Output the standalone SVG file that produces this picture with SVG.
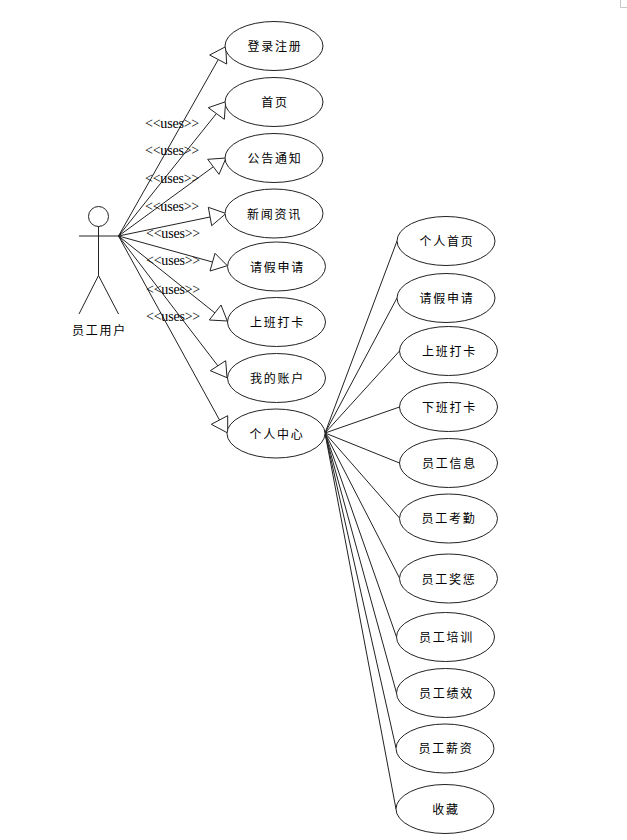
<svg xmlns="http://www.w3.org/2000/svg" width="627" height="840" viewBox="0 0 627 840">
<style>
.u{fill:#fff;stroke:#222;stroke-width:1}
.c line,.c polyline,.a line,.a circle{stroke:#222;stroke-width:1;fill:none}
.c polygon{fill:#fff;stroke:#222;stroke-width:1}
text{fill:#000;text-anchor:middle}
.t{font:12px "Noto Sans CJK SC","Liberation Sans",sans-serif;letter-spacing:1.8px}
.s{font:14px "Liberation Serif",serif;letter-spacing:-0.2px}
</style>
<rect width="627" height="840" fill="#fff"/>
<path d="M620.5 0V7.5H627" fill="none" stroke="#c8c8c8"/>
<g id="connectors" class="c">
<line x1="118.5" y1="236" x2="218" y2="60"/>
<line x1="118.5" y1="236" x2="216" y2="114"/>
<line x1="118.5" y1="236" x2="213" y2="167"/>
<line x1="118.5" y1="236" x2="210" y2="217"/>
<line x1="118.5" y1="236" x2="212.5" y2="262"/>
<line x1="118.5" y1="236" x2="215" y2="313"/>
<line x1="118.5" y1="236" x2="218" y2="366"/>
<line x1="118.5" y1="236" x2="219.5" y2="420"/>
<polygon points="225.7,46.7 209.7,55 226.7,64"/>
<polygon points="225.7,101.7 208.3,107.7 224.3,119.3"/>
<polygon points="226,158 207.7,159.3 219,174.3"/>
<polygon points="226,213.5 208.3,207.3 211.7,225.7"/>
<polygon points="227.3,265.7 215,253.3 210,271"/>
<polygon points="227.3,321 221,305 209.3,320"/>
<polygon points="227,377.7 225.7,360.7 210.3,370.7"/>
<polygon points="227.7,433 211.3,424.3 227.7,415.7"/>
<line x1="325" y1="433" x2="397" y2="241"/>
<line x1="325" y1="433" x2="397" y2="298"/>
<line x1="325" y1="433" x2="399.5" y2="351"/>
<line x1="325" y1="433" x2="399.5" y2="407"/>
<line x1="325" y1="433" x2="399.5" y2="463"/>
<line x1="325" y1="433" x2="399.5" y2="518"/>
<line x1="325" y1="433" x2="399.5" y2="578"/>
<line x1="325" y1="433" x2="396.5" y2="637"/>
<line x1="325" y1="433" x2="396.5" y2="693"/>
<line x1="325" y1="433" x2="396" y2="748"/>
<line x1="325" y1="433" x2="396" y2="809"/>
</g>
<g id="uses-labels" class="s">
<text x="172" y="128">&lt;&lt;uses&gt;&gt;</text>
<text x="172" y="155">&lt;&lt;uses&gt;&gt;</text>
<text x="172" y="183">&lt;&lt;uses&gt;&gt;</text>
<text x="172" y="211">&lt;&lt;uses&gt;&gt;</text>
<text x="173" y="238">&lt;&lt;uses&gt;&gt;</text>
<text x="173" y="265">&lt;&lt;uses&gt;&gt;</text>
<text x="173" y="294">&lt;&lt;uses&gt;&gt;</text>
<text x="173" y="321">&lt;&lt;uses&gt;&gt;</text>
</g>
<g id="actor" class="a">
<circle cx="98.5" cy="216.5" r="10"/>
<line x1="98.5" y1="226.5" x2="98.5" y2="275.5"/>
<line x1="79" y1="236" x2="118.5" y2="236"/>
<line x1="98.5" y1="275.5" x2="79" y2="314"/>
<line x1="98.5" y1="275.5" x2="118.5" y2="314"/>
<text class="t" x="99.5" y="335">员工用户</text>
</g>
<g id="n1"><ellipse class="u" cx="274" cy="46" rx="49" ry="24.5"/><text class="t" x="275" y="51">登录注册</text></g>
<g id="n2"><ellipse class="u" cx="274" cy="102" rx="49" ry="24.5"/><text class="t" x="275" y="107">首页</text></g>
<g id="n3"><ellipse class="u" cx="274" cy="158" rx="49" ry="24.5"/><text class="t" x="275" y="163">公告通知</text></g>
<g id="n4"><ellipse class="u" cx="274" cy="213.5" rx="49" ry="24.5"/><text class="t" x="274.5" y="218.5">新闻资讯</text></g>
<g id="n5"><ellipse class="u" cx="276.5" cy="266.5" rx="49" ry="24.5"/><text class="t" x="277.5" y="271.5">请假申请</text></g>
<g id="n6"><ellipse class="u" cx="276.5" cy="322" rx="49" ry="24.5"/><text class="t" x="277.5" y="327">上班打卡</text></g>
<g id="n7"><ellipse class="u" cx="276.5" cy="378" rx="49" ry="24.5"/><text class="t" x="277.5" y="383">我的账户</text></g>
<g id="n8"><ellipse class="u" cx="276" cy="433.5" rx="49" ry="24.5"/><text class="t" x="277" y="438.5">个人中心</text></g>
<g id="r1"><ellipse class="u" cx="446" cy="241" rx="49" ry="24.5"/><text class="t" x="447" y="246">个人首页</text></g>
<g id="r2"><ellipse class="u" cx="446" cy="298" rx="49" ry="24.5"/><text class="t" x="447" y="303">请假申请</text></g>
<g id="r3"><ellipse class="u" cx="448.5" cy="351" rx="49" ry="24.5"/><text class="t" x="449.5" y="356">上班打卡</text></g>
<g id="r4"><ellipse class="u" cx="448.5" cy="407" rx="49" ry="24.5"/><text class="t" x="449.5" y="412">下班打卡</text></g>
<g id="r5"><ellipse class="u" cx="448.5" cy="463" rx="49" ry="24.5"/><text class="t" x="449.5" y="468">员工信息</text></g>
<g id="r6"><ellipse class="u" cx="448.5" cy="518.5" rx="49" ry="24.5"/><text class="t" x="449" y="523">员工考勤</text></g>
<g id="r7"><ellipse class="u" cx="448.5" cy="578.5" rx="49" ry="24.5"/><text class="t" x="449" y="584">员工奖惩</text></g>
<g id="r8"><ellipse class="u" cx="445.5" cy="637" rx="49" ry="24.5"/><text class="t" x="446.5" y="642">员工培训</text></g>
<g id="r9"><ellipse class="u" cx="445.5" cy="693" rx="49" ry="24.5"/><text class="t" x="446.5" y="698">员工绩效</text></g>
<g id="r10"><ellipse class="u" cx="445" cy="748.5" rx="49" ry="24.5"/><text class="t" x="446" y="753">员工薪资</text></g>
<g id="r11"><ellipse class="u" cx="445" cy="809" rx="49" ry="24.5"/><text class="t" x="446" y="814">收藏</text></g>
</svg>
